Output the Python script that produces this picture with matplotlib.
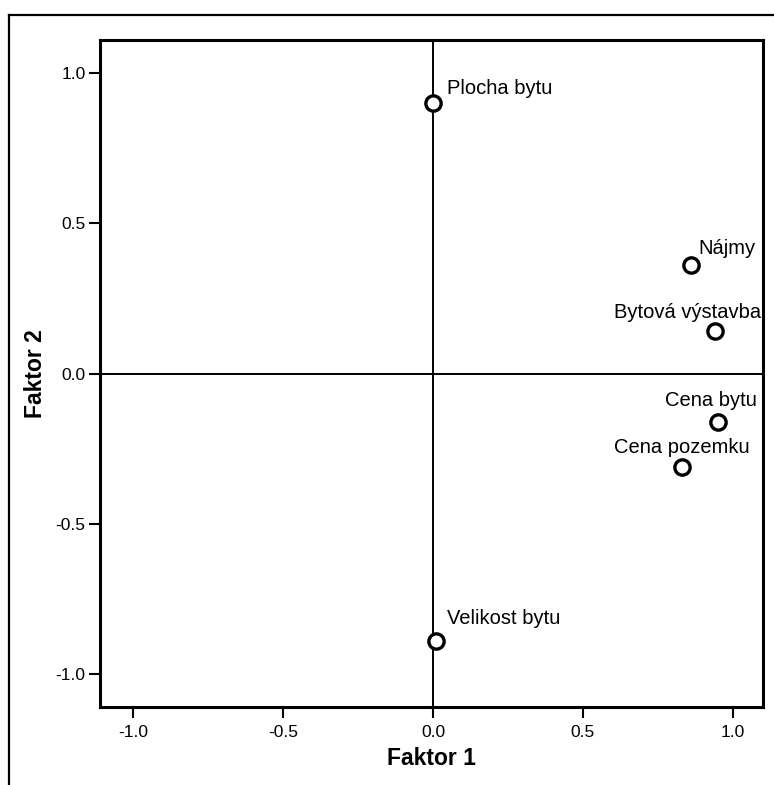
import matplotlib.pyplot as plt
from matplotlib.lines import Line2D

plt.rcParams['font.family'] = ['Liberation Sans', 'DejaVu Sans']

#%% Factor loadings

names = ['Plocha bytu', 'Nájmy', 'Bytová výstavba', 'Cena bytu', 'Cena pozemku', 'Velikost bytu']
faktor1 = [0.00, 0.86, 0.94, 0.95, 0.83, 0.01]
faktor2 = [0.90, 0.36, 0.14, -0.16, -0.31, -0.89]

ticks = [-1.0, -0.5, 0.0, 0.5, 1.0]
tick_labels = ['-1.0', '-0.5', '0.0', '0.5', '1.0']

# label placement around each marker (points: dx, dy)
label_offsets = [(48, 6.5), (26, 8), (-20, 9.5), (-5, 11), (0, 9.5), (48.5, 12)]

#%% Plot

fig = plt.figure(figsize=(7.74, 7.85), dpi=100)
ax = fig.add_axes([100/774, 1 - 707/785, 663/774, 667/785])

ax.axvline(0, color='black', lw=1.4, zorder=1)
ax.axhline(0, color='black', lw=1.4, zorder=1)

ax.plot(faktor1, faktor2, 'o', ms=11, mfc='white', mec='black', mew=2.4, zorder=3)

for name, x, y, off in zip(names, faktor1, faktor2, label_offsets):
    ax.annotate(name, (x, y), xytext=off, textcoords='offset points',
                ha='center', va='baseline', fontsize=14.5, zorder=4)

ax.set_xlim(-1.11, 1.10)
ax.set_ylim(-1.11, 1.11)
ax.set_xticks(ticks)
ax.set_xticklabels(tick_labels)
ax.set_yticks(ticks)
ax.set_yticklabels(tick_labels)

for s in ax.spines.values():
    s.set_linewidth(2.2)
ax.tick_params(axis='both', direction='out', length=8, width=1.5, labelsize=12.5)
ax.tick_params(axis='x', pad=5)
ax.tick_params(axis='y', pad=2.5)

ax.set_xlabel('Faktor 1', fontsize=16.5, fontweight='bold', labelpad=5)
ax.set_ylabel('Faktor 2', fontsize=16.5, fontweight='bold', labelpad=6)

# outer frame: top and left edges
fig.add_artist(Line2D([9/774, 9/774], [0, 1 - 15/785], transform=fig.transFigure, color='black', lw=1.6))
fig.add_artist(Line2D([9/774, 1], [1 - 15/785, 1 - 15/785], transform=fig.transFigure, color='black', lw=1.6))

plt.savefig('out.png', dpi=100)
